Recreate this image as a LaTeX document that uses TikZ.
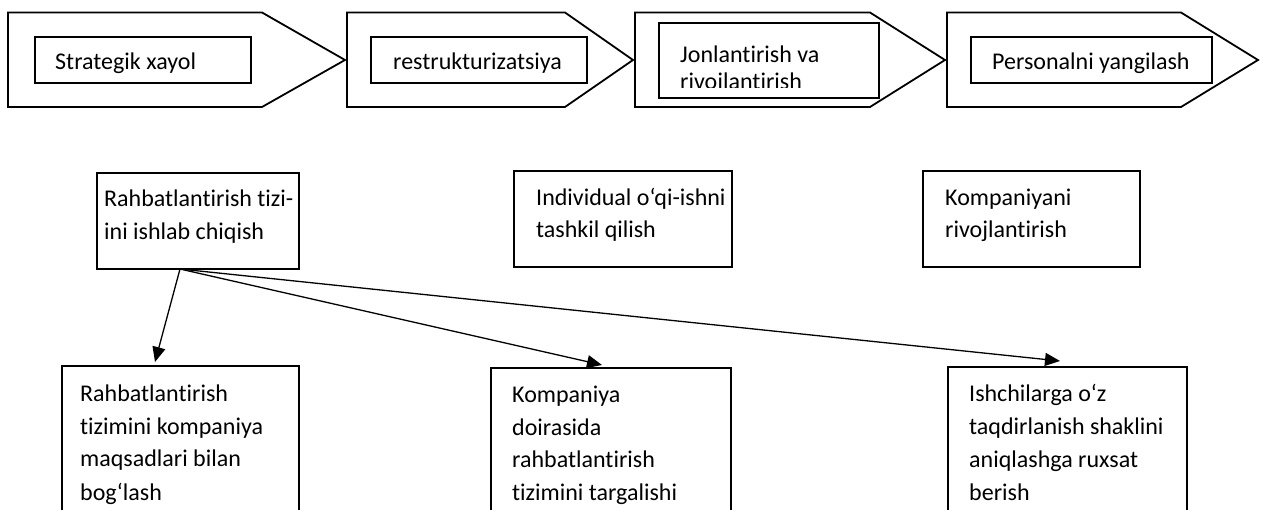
\documentclass[tikz,border=0pt]{standalone}
\usepackage{fontspec}
\setmainfont{Carlito}[Ligatures={TeX,NoCommon}]
\usetikzlibrary{arrows.meta}
\begin{document}
\begin{tikzpicture}[x=1pt,y=-1pt,
  chevron/.style={draw, line width=1.8pt, line join=miter},
  framebox/.style={draw, line width=1.8pt, rectangle, inner sep=0pt, outer sep=0pt, anchor=north west},
  boxtext/.style={inner sep=0pt, anchor=base west, align=left, font=\fontsize{24}{33}\selectfont},
  link/.style={line width=1.3pt, -{Triangle[length=15pt,width=13pt]}}]
\useasboundingbox (0,0) rectangle (1264,510);
\clip (0,0) rectangle (1264,510);

% process chevrons along the top
\draw[chevron] (8,12.5) -- (262,12.5) -- (345,60) -- (262,107) -- (8,107) -- cycle;
\draw[chevron] (347,12.5) -- (565,12.5) -- (633,60) -- (565,107) -- (347,107) -- cycle;
\draw[chevron] (635,12.5) -- (870,12.5) -- (945,60) -- (870,107) -- (635,107) -- cycle;
\draw[chevron] (947,12.5) -- (1181,12.5) -- (1258,60) -- (1181,107) -- (947,107) -- cycle;

% stage labels inside the chevrons (base anchor = last line)
\node[framebox, minimum width=216pt, minimum height=46pt] (s1) at (35,37) {};
\node[boxtext] (s1t) at (55,70) {Strategik xayol};
\node[framebox, minimum width=216pt, minimum height=46pt] (s2) at (371,37) {};
\node[boxtext] (s2t) at (393,70) {restrukturizatsiya};
\node[framebox, minimum width=220pt, minimum height=75pt] (s3) at (659,23) {};
\begin{scope}
  \clip (659,23) rectangle (879,88);
  \node[boxtext, font=\fontsize{24}{27}\selectfont] (s3t) at (680,90) {Jonlantirish va\\rivojlantirish};
\end{scope}
\node[framebox, minimum width=241pt, minimum height=46pt] (s4) at (971,37) {};
\node[boxtext] (s4t) at (992,70) {Personalni yangilash};

% middle row
\node[framebox, minimum width=202pt, minimum height=96pt] (A) at (97,173) {};
\node[boxtext] (At) at (104,240) {Rahbatlantirish tizi-\\ini ishlab chiqish};
\node[framebox, minimum width=218pt, minimum height=96pt] (B) at (514,171) {};
\node[boxtext, font=\fontsize{24}{32}\selectfont] (Bt) at (536,238) {Individual o‘qi-ishni\\tashkil qilish};
\node[framebox, minimum width=217pt, minimum height=96pt] (C) at (923,171) {};
\node[boxtext, font=\fontsize{24}{32}\selectfont] (Ct) at (945,238) {Kompaniyani\\rivojlantirish};

% bottom row
\node[framebox, minimum width=237pt, minimum height=180pt] (D) at (62,366) {};
\node[boxtext] (Dt) at (80,500) {Rahbatlantirish\\tizimini kompaniya\\maqsadlari bilan\\bog‘lash};
\node[framebox, minimum width=240pt, minimum height=180pt] (E) at (491,368) {};
\node[boxtext, font=\fontsize{24}{32.5}\selectfont] (Et) at (512,500) {Kompaniya\\doirasida\\rahbatlantirish\\tizimini targalishi};
\node[framebox, minimum width=239pt, minimum height=180pt] (F) at (948,367) {};
\node[boxtext, font=\fontsize{24}{32.7}\selectfont] (Ft) at (969,500) {Ishchilarga o‘z\\taqdirlanish shaklini\\aniqlashga ruxsat\\berish};

% connectors
\coordinate (src) at ([xshift=-18pt]A.south);
\draw[link] (src) -- ([xshift=-25.5pt,yshift=4pt]D.north);
\draw[link] (src) -- ([xshift=-9pt,yshift=3pt]E.north);
\draw[link] (src) -- ([xshift=-7.5pt,yshift=6pt]F.north);
\end{tikzpicture}
\end{document}
